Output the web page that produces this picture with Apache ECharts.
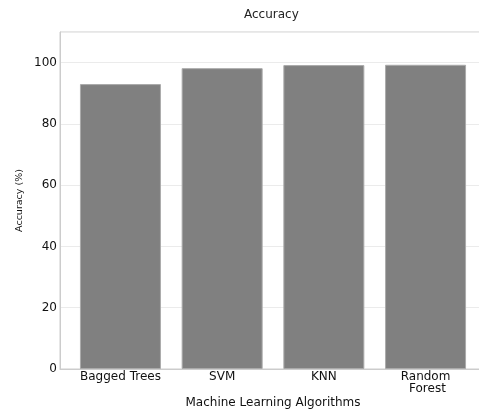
<!DOCTYPE html>
<html>
<head>
<meta charset="utf-8">
<script src="https://cdn.jsdelivr.net/npm/echarts@6/dist/echarts.min.js"></script>
<style>html,body{margin:0;padding:0;background:#fff}#c{width:479px;height:410px}</style>
</head>
<body>
<div id="c"></div>
<script>
var categories = ["Bagged Trees", "SVM", "KNN", "Random\n Forest"];
var accuracy = [93.0, 98.2, 99.2, 99.3];
var yTicks = [0, 20, 40, 60, 80, 100];

var FONT = "DejaVu Sans";
var chart = echarts.init(document.getElementById('c'), null, {renderer: 'canvas'});
chart.setOption({
  animation: false,
  backgroundColor: '#ffffff',
  title: {
    text: 'Accuracy', left: 239, top: 4,
    textStyle: {fontFamily: FONT, fontSize: 12, fontWeight: 'normal', color: '#222222'}
  },
  grid: [
    {left: 60, top: 32, right: -7, bottom: 41, show: true, borderColor: '#cccccc', borderWidth: 1,
     backgroundColor: 'transparent', containLabel: false, outerBoundsMode: 'none'},
    {left: 69.6, top: 32, width: 406.8, bottom: 41, containLabel: false, outerBoundsMode: 'none'}
  ],
  xAxis: [
    {gridIndex: 0, type: 'value', min: 0, max: 1, show: true,
     axisLine: {show: true, lineStyle: {color: '#cccccc'}}, axisTick: {show: false},
     axisLabel: {show: false}, splitLine: {show: false}},
    {gridIndex: 1, type: 'category', data: categories,
     axisLine: {show: false}, axisTick: {show: false},
     axisLabel: {fontFamily: FONT, fontSize: 12, color: '#111111', margin: 2, lineHeight: 12, interval: 0},
     name: 'Machine Learning Algorithms', nameLocation: 'middle', nameGap: 28, nameMoveOverlap: false,
     nameTextStyle: {fontFamily: FONT, fontSize: 12, color: '#111111'}}
  ],
  yAxis: [
    {gridIndex: 0, type: 'value', min: 0, max: 110, interval: 20,
     axisLine: {show: true, lineStyle: {color: '#cccccc'}}, axisTick: {show: false},
     axisLabel: {fontFamily: FONT, fontSize: 12, color: '#111111', margin: 3, showMaxLabel: false,
       formatter: function (v) { return yTicks.indexOf(v) >= 0 ? String(v) : ''; }},
     splitLine: {show: true, lineStyle: {color: '#ebebeb', width: 1}},
     name: 'Accuracy (%)', nameLocation: 'middle', nameRotate: 90, nameGap: 35, nameMoveOverlap: false,
     nameTextStyle: {fontFamily: FONT, fontSize: 9.5, color: '#111111'}},
    {gridIndex: 1, type: 'value', min: 0, max: 110, show: false, splitLine: {show: false}}
  ],
  series: [{
    type: 'bar', xAxisIndex: 1, yAxisIndex: 1, data: accuracy,
    barWidth: 81,
    itemStyle: {color: '#808080', borderColor: '#aaaaaa', borderWidth: 1}
  }]
});
</script>
</body>
</html>
